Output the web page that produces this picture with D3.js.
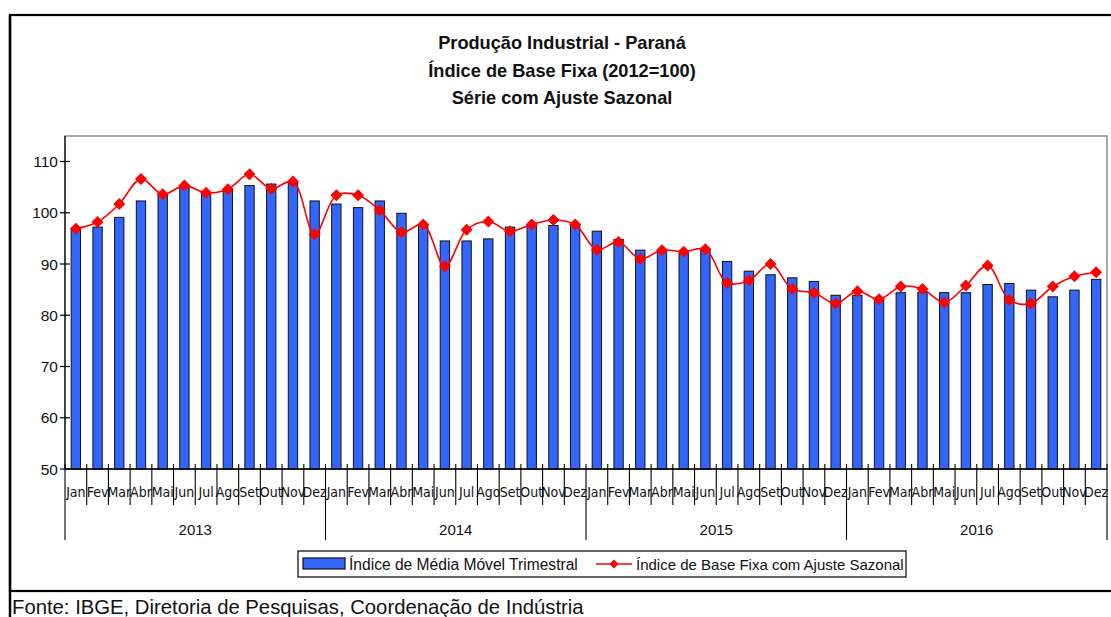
<!DOCTYPE html>
<html>
<head>
<meta charset="utf-8">
<script src="https://cdn.jsdelivr.net/npm/d3@7"></script>
<style>
  body { margin: 0; background: #fff; }
  svg { display: block; font-family: "Liberation Sans", Arial, sans-serif; }
</style>
</head>
<body>
<svg id="chart" width="1111" height="617"></svg>
<script>
// --- dados ---
const anos = ["2013", "2014", "2015", "2016"];
const meses = ["Jan", "Fev", "Mar", "Abr", "Mai", "Jun", "Jul", "Ago", "Set", "Out", "Nov", "Dez"];

// Índice de Média Móvel Trimestral (barras)
const mediaMovel = [
  97.0, 97.2, 99.1, 102.3, 103.8, 105.2, 104.0, 104.6, 105.3, 105.6, 106.1, 102.3,
  101.7, 101.0, 102.3, 99.9, 97.7, 94.5, 94.5, 94.9, 97.2, 97.5, 97.5, 97.8,
  96.4, 94.8, 92.7, 92.5, 92.1, 92.7, 90.5, 88.6, 87.9, 87.3, 86.6, 83.9,
  83.9, 83.2, 84.4, 84.5, 84.4, 84.4, 86.0, 86.2, 84.9, 83.6, 84.9, 87.0
];

// Índice de Base Fixa com Ajuste Sazonal (linha)
const ajusteSazonal = [
  96.9, 98.2, 101.7, 106.6, 103.6, 105.3, 103.9, 104.6, 107.5, 104.7, 106.1, 95.8,
  103.4, 103.4, 100.5, 96.2, 97.7, 89.5, 96.7, 98.3, 96.4, 97.7, 98.6, 97.7,
  92.8, 94.3, 91.0, 92.7, 92.4, 92.9, 86.3, 86.8, 90.0, 85.1, 84.4, 82.3,
  84.7, 83.1, 85.6, 85.1, 82.5, 85.8, 89.7, 83.0, 82.3, 85.6, 87.6, 88.4
];

const yTicks = [50, 60, 70, 80, 90, 100, 110];

const titulo = ["Produção Industrial - Paraná", "Índice de Base Fixa (2012=100)", "Série com Ajuste Sazonal"];
const fonte = "Fonte: IBGE, Diretoria de Pesquisas, Coordenação de Indústria";

// --- configuração ---
const svg = d3.select("#chart");
const plot = { left: 65, right: 1107, top: 136, bottom: 469 };

const idx = d3.range(mediaMovel.length);
const x = d3.scaleBand().domain(idx).range([plot.left, plot.right]);
const y = d3.scaleLinear().domain([50, 110]).range([plot.bottom, 161.5]);
const barW = x.bandwidth() * 0.43;

// moldura externa
svg.append("rect")
  .attr("x", 10).attr("y", 15).attr("width", 1110).attr("height", 576)
  .attr("fill", "none").attr("stroke", "#000").attr("stroke-width", 2.2);
svg.append("line")
  .attr("x1", 10).attr("x2", 10).attr("y1", 15).attr("y2", 617)
  .attr("stroke", "#000").attr("stroke-width", 2.5);

// título
svg.append("g").selectAll("text")
  .data(titulo)
  .join("text")
  .attr("x", 562)
  .attr("y", (d, i) => 49 + i * 27.5)
  .attr("text-anchor", "middle")
  .attr("font-weight", "bold")
  .attr("font-size", 18.2)
  .attr("fill", "#111")
  .text(d => d);

// área do gráfico
svg.append("rect")
  .attr("x", plot.left).attr("y", plot.top)
  .attr("width", plot.right - plot.left).attr("height", plot.bottom - plot.top)
  .attr("fill", "#fff").attr("stroke", "#8c8c8c").attr("stroke-width", 1.5);

// barras
svg.append("g").selectAll("rect")
  .data(mediaMovel)
  .join("rect")
  .attr("x", (d, i) => x(i) + (x.bandwidth() - barW) / 2)
  .attr("y", d => y(d))
  .attr("width", barW)
  .attr("height", d => y(50) - y(d))
  .attr("fill", "#3366ff")
  .attr("stroke", "#111")
  .attr("stroke-width", 1);

// eixo Y
const yAxis = svg.append("g");
yAxis.append("line")
  .attr("x1", plot.left).attr("x2", plot.left)
  .attr("y1", plot.top).attr("y2", plot.bottom)
  .attr("stroke", "#000").attr("stroke-width", 1.2);
yAxis.selectAll("line.tick")
  .data(yTicks)
  .join("line")
  .attr("class", "tick")
  .attr("x1", plot.left - 5).attr("x2", plot.left + 5)
  .attr("y1", d => y(d)).attr("y2", d => y(d))
  .attr("stroke", "#000").attr("stroke-width", 1.2);
yAxis.selectAll("text")
  .data(yTicks)
  .join("text")
  .attr("x", plot.left - 7)
  .attr("y", d => y(d) + 5.5)
  .attr("text-anchor", "end")
  .attr("font-size", 15.5)
  .attr("fill", "#111")
  .text(d => d);

// eixo X (categorias em dois níveis)
const xAxis = svg.append("g");
xAxis.append("line")
  .attr("x1", plot.left).attr("x2", plot.right)
  .attr("y1", plot.bottom).attr("y2", plot.bottom)
  .attr("stroke", "#000").attr("stroke-width", 1.5);

const bordas = d3.range(mediaMovel.length + 1).map(i => i < mediaMovel.length ? x(i) : plot.right);
xAxis.selectAll("line.mes")
  .data(bordas)
  .join("line")
  .attr("class", "mes")
  .attr("x1", d => d).attr("x2", d => d)
  .attr("y1", plot.bottom - 5)
  .attr("y2", (d, i) => i % 12 === 0 ? 540 : 505)
  .attr("stroke", "#000").attr("stroke-width", 1.1);

xAxis.selectAll("text.mes")
  .data(idx)
  .join("text")
  .attr("class", "mes")
  .attr("x", i => x(i) + x.bandwidth() / 2)
  .attr("y", 497)
  .attr("text-anchor", "middle")
  .attr("font-family", "'Liberation Sans Narrow', 'DejaVu Sans Condensed', sans-serif")
  .attr("font-size", 14)
  .attr("fill", "#111")
  .text(i => meses[i % 12]);

xAxis.selectAll("text.ano")
  .data(anos)
  .join("text")
  .attr("class", "ano")
  .attr("x", (d, k) => (x(k * 12) + (k === anos.length - 1 ? plot.right : x(k * 12 + 12))) / 2)
  .attr("y", 535)
  .attr("text-anchor", "middle")
  .attr("font-size", 15)
  .attr("fill", "#111")
  .text(d => d);

// linha suavizada com marcadores
const linha = d3.line()
  .x((d, i) => x(i) + x.bandwidth() / 2)
  .y(d => y(d))
  .curve(d3.curveCatmullRom.alpha(0.5));

svg.append("path")
  .datum(ajusteSazonal)
  .attr("d", linha)
  .attr("fill", "none")
  .attr("stroke", "#ff0000")
  .attr("stroke-width", 1.6);

const losango = r => `M0,${-r}L${r},0L0,${r}L${-r},0Z`;
svg.append("g").selectAll("path")
  .data(ajusteSazonal)
  .join("path")
  .attr("transform", (d, i) => `translate(${x(i) + x.bandwidth() / 2},${y(d)})`)
  .attr("d", losango(6))
  .attr("fill", "#ff0000");

// legenda
const leg = svg.append("g");
leg.append("rect")
  .attr("x", 298).attr("y", 551).attr("width", 608).attr("height", 26)
  .attr("fill", "#fff").attr("stroke", "#000").attr("stroke-width", 1.2);
leg.append("rect")
  .attr("x", 303).attr("y", 558).attr("width", 42).attr("height", 11)
  .attr("fill", "#3366ff").attr("stroke", "#111").attr("stroke-width", 1.2);
leg.append("text")
  .attr("x", 349).attr("y", 570)
  .attr("font-size", 15.6).attr("fill", "#111")
  .text("Índice de Média Móvel Trimestral");
leg.append("line")
  .attr("x1", 596).attr("x2", 632).attr("y1", 564).attr("y2", 564)
  .attr("stroke", "#ff0000").attr("stroke-width", 1.6);
leg.append("path")
  .attr("transform", "translate(614,564)")
  .attr("d", losango(4.5))
  .attr("fill", "#ff0000");
leg.append("text")
  .attr("x", 636).attr("y", 570)
  .attr("font-size", 15).attr("fill", "#111")
  .text("Índice de Base Fixa com Ajuste Sazonal");

// fonte
svg.append("text")
  .attr("x", 12).attr("y", 614)
  .attr("font-size", 20.3).attr("fill", "#111")
  .text(fonte);
</script>
</body>
</html>
